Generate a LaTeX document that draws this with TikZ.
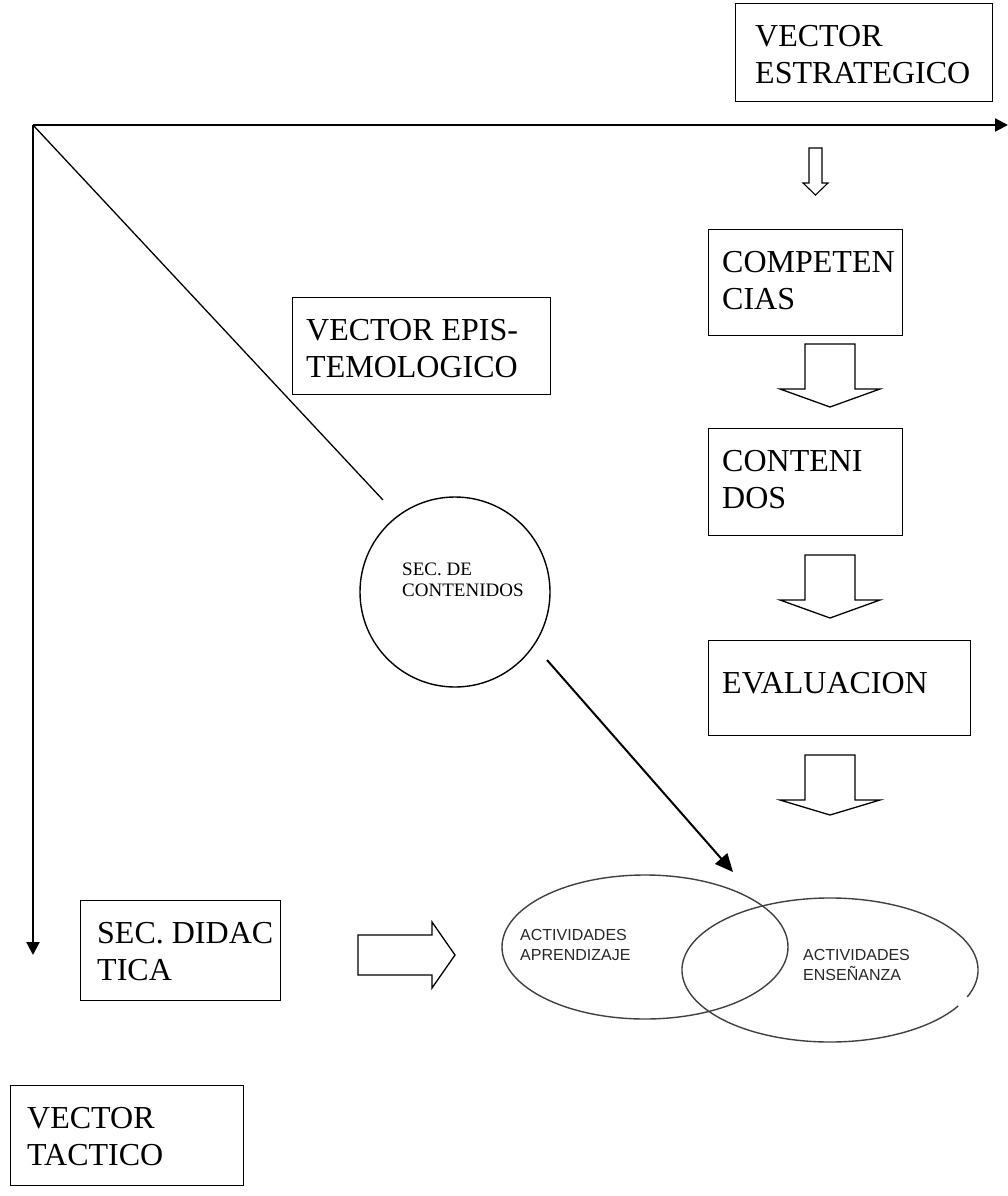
\documentclass[tikz,border=0pt]{standalone}
\usepackage{fontspec}
\setmainfont{Liberation Serif}
\newfontfamily\arialf{Liberation Sans}
\usetikzlibrary{arrows.meta,calc}
\begin{document}
\begin{tikzpicture}[x=1pt,y=-1pt,
  box/.style={draw, line width=1.3pt, inner sep=0pt, anchor=north west},
  boxtext/.style={anchor=north west, inner sep=0pt, align=left, font=\fontsize{32}{37}\selectfont},
  blockarrow/.style={draw, line width=1.3pt, line join=miter},
  axis/.style={line width=2.2pt, -{Triangle[length=13pt,width=13pt]}},
  ell/.style={draw=black!75, line width=1.4pt},
  elltext/.style={anchor=north west, inner sep=0pt, align=left, text=black!85, font=\arialf\fontsize{16}{20}\selectfont}]
\useasboundingbox (0,0) rectangle (1008,1196);

% boxes
\node[box, minimum width=257pt, minimum height=98pt] (est) at (735,3) {};
\node[boxtext] (estT) at ($(est.north west)+(20,22)$) {VECTOR\\ESTRATEGICO};

\node[box, minimum width=194pt, minimum height=106pt] (comp) at (708,229) {};
\node[boxtext] (compT) at ($(comp.north west)+(14,22)$) {COMPETEN\\CIAS};

\node[box, minimum width=258pt, minimum height=97pt] (epis) at (292,297) {};
\node[boxtext] (episT) at ($(epis.north west)+(14,22)$) {VECTOR EPIS-\\TEMOLOGICO};

\node[box, minimum width=194pt, minimum height=107pt] (cont) at (708,428) {};
\node[boxtext] (contT) at ($(cont.north west)+(14,22)$) {CONTENI\\DOS};

\node[box, minimum width=262pt, minimum height=95pt] (eval) at (708,640) {};
\node[boxtext] (evalT) at ($(eval.north west)+(14,32)$) {EVALUACION};

\node[box, minimum width=200pt, minimum height=100pt] (did) at (80,900) {};
\node[boxtext] (didT) at ($(did.north west)+(17,22)$) {SEC. DIDAC\\TICA};

\node[box, minimum width=233pt, minimum height=100pt] (tac) at (10,1085) {};
\node[boxtext] (tacT) at ($(tac.north west)+(17,22)$) {VECTOR\\TACTICO};

% axes
\coordinate (O) at (33,125);
\coordinate (hend) at (1008,125);
\coordinate (vend) at (33,955);
\coordinate (dend) at (383,500);
\draw[axis] (O) -- (hend);
\draw[axis] (O) -- (vend);
\draw[line width=1.3pt] (O) -- (dend);

% small outline arrow
\draw[line width=1.1pt, line join=miter] (809,148) -- (822,148) -- (822,183) -- (828,183) -- (815.5,195) -- (803,183) -- (809,183) -- cycle;

% block arrows
\draw[blockarrow] (805,344) -- (855,344) -- (855,389) -- (880,389) -- (830,407) -- (780,389) -- (805,389) -- cycle;
\draw[blockarrow] (805,555) -- (855,555) -- (855,600) -- (880,600) -- (830,618) -- (780,600) -- (805,600) -- cycle;
\draw[blockarrow] (805,755) -- (855,755) -- (855,800) -- (880,800) -- (830,815) -- (780,800) -- (805,800) -- cycle;
\draw[blockarrow] (358,935) -- (432,935) -- (432,922) -- (455,955) -- (432,988) -- (432,975) -- (358,975) -- cycle;

% circle
\node[draw, circle, line width=1.4pt, minimum size=190pt, inner sep=0pt] (sec) at (455,592) {};
\node[anchor=north west, inner sep=0pt, align=left, font=\fontsize{19}{21}\selectfont] (secT) at (402,563) {SEC. DE\\CONTENIDOS};

% ellipses
\coordinate (e1) at (645,947);
\coordinate (e2) at (830,970);
\draw[ell] (e1) ellipse [x radius=143pt, y radius=72pt];
\draw[ell] ([shift={(-22:148pt and 72pt)}]e2) arc[start angle=-22, end angle=330, x radius=148pt, y radius=72pt];
\node[elltext] (e1T) at (520,929) {ACTIVIDADES\\APRENDIZAJE};
\node[elltext] (e2T) at (803,949) {ACTIVIDADES\\ENSEÑANZA};

% diagonal arrow
\coordinate (dstart) at (547,660);
\coordinate (dtip) at (733,872);
\draw[line width=2pt, -{Triangle[length=18pt,width=16pt]}] (dstart) -- (dtip);
\end{tikzpicture}
\end{document}
